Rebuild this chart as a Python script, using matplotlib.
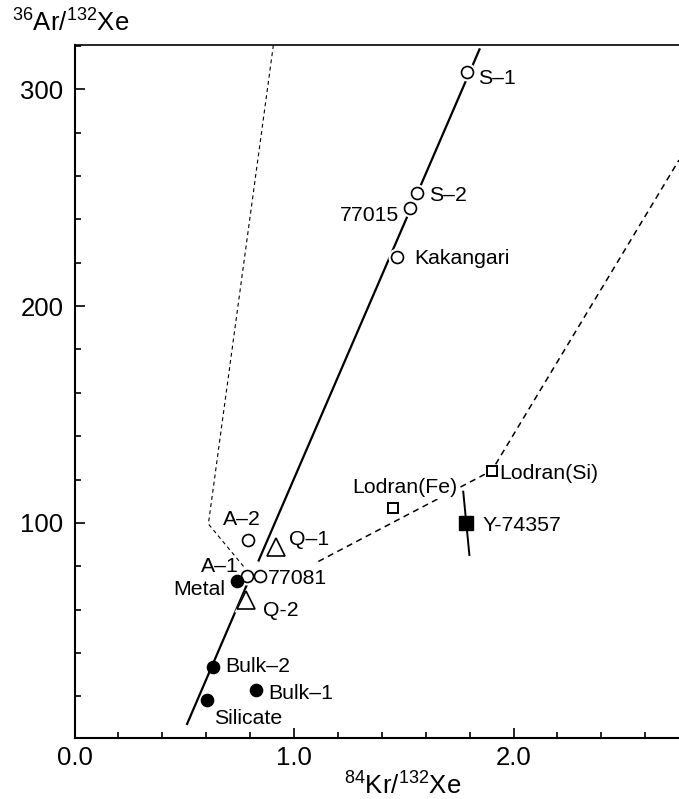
import matplotlib
matplotlib.use('Agg')
import matplotlib.pyplot as plt
from matplotlib.ticker import MultipleLocator, FixedLocator

plt.rcParams['font.family'] = ['Liberation Sans', 'DejaVu Sans']
plt.rcParams['mathtext.fontset'] = 'custom'
plt.rcParams['mathtext.rm'] = 'Liberation Sans'
plt.rcParams['mathtext.it'] = 'Liberation Sans:italic'
plt.rcParams['mathtext.bf'] = 'Liberation Sans:bold'

# ---------------- data ----------------
open_circle_labels = ['S–1', 'S–2', '77015', 'Kakangari', 'A–2', 'A–1', '77081']
open_circle_x = [1.787, 1.559, 1.528, 1.468, 0.792, 0.787, 0.845]
open_circle_y = [308.1, 252.0, 245.1, 222.8, 92.2, 75.7, 75.7]

filled_circle_labels = ['Metal', 'Bulk–2', 'Bulk–1', 'Silicate']
filled_circle_x = [0.742, 0.630, 0.827, 0.602]
filled_circle_y = [73.3, 33.7, 22.7, 18.1]

triangle_labels = ['Q–1', 'Q-2']
triangle_x = [0.917, 0.783]
triangle_y = [88.7, 64.5]

open_square_labels = ['Lodran(Fe)', 'Lodran(Si)']
open_square_x = [1.450, 1.901]
open_square_y = [106.8, 124.1]

filled_square_labels = ['Y-74357']
filled_square_x = [1.784]
filled_square_y = [99.9]
y74357_bar_x = [1.771, 1.799]
y74357_bar_y = [114.4, 85.2]

solid_upper_x = [0.837, 1.847]
solid_upper_y = [82.2, 318.9]
solid_lower_x = [0.511, 0.795]
solid_lower_y = [6.8, 73.7]
left_dashed_x = [0.906, 0.610, 0.777]
left_dashed_y = [320.4, 99.5, 79.1]
right_dashed_x = [1.111, 1.901, 2.754]
right_dashed_y = [82.2, 124.1, 267.4]

x_tick_values = [0, 1, 2]
x_tick_labels = ['0.0', '1.0', '2.0']
y_tick_values = [100, 200, 300]
y_tick_labels = ['100', '200', '300']

# ---------------- layout (label offsets in pixels: dx, dy, ha) ----------------
label_offsets = {
    'S–1': (11, 12, 'left'), 'S–2': (12, 8, 'left'), '77015': (-11, 13, 'right'),
    'Kakangari': (18, 7, 'left'), 'A–2': (-6, -15, 'center'), 'A–1': (-9, -4, 'right'),
    '77081': (8, 8, 'left'), 'Metal': (-12, 14, 'right'), 'Bulk–2': (12, 5, 'left'),
    'Bulk–1': (12, 9, 'left'), 'Silicate': (7, 24, 'left'), 'Q–1': (13, -2, 'left'),
    'Q-2': (17, 16, 'left'), 'Lodran(Fe)': (-41, -15, 'left'), 'Lodran(Si)': (7, 8, 'left'),
    'Y-74357': (16, 8, 'left'),
}

W, H = 679, 799
fig = plt.figure(figsize=(W / 100, H / 100), dpi=100)
left_px, right_px = 74.5, 74.5 + 3 * 219.5
top_px, bottom_px = 44.7, 737.5
ax = fig.add_axes([left_px / W, 1 - bottom_px / H,
                   (right_px - left_px) / W, (bottom_px - top_px) / H])
ax.set_xlim(0, 3)
ax.set_ylim(1, 320.6)

# lines
ax.plot(solid_upper_x, solid_upper_y, color='black', lw=1.6, zorder=2, solid_capstyle='butt')
ax.plot(solid_lower_x, solid_lower_y, color='black', lw=1.6, zorder=2, solid_capstyle='butt')
ax.plot(left_dashed_x, left_dashed_y, color='black', lw=0.8, ls=(0, (3.5, 3)), zorder=2)
ax.plot(right_dashed_x, right_dashed_y, color='black', lw=1.1, ls=(0, (4, 3)), zorder=2)
ax.plot(y74357_bar_x, y74357_bar_y, color='black', lw=1.4, zorder=2)

# halos (white gaps in lines around markers)
ax.plot(open_circle_x, open_circle_y, ls='none', marker='o', ms=13, mfc='white', mec='none', zorder=3)
ax.plot(triangle_x, triangle_y, ls='none', marker='^', ms=17, mfc='white', mec='none', zorder=3)

# markers
ax.plot(open_circle_x, open_circle_y, ls='none', marker='o', ms=8.6, mfc='white', mec='black', mew=1.2, zorder=5)
ax.plot(filled_circle_x, filled_circle_y, ls='none', marker='o', ms=8.8, mfc='black', mec='black', zorder=5)
ax.plot(triangle_x, triangle_y, ls='none', marker='^', ms=13.5, mfc='white', mec='black', mew=1.2, zorder=5)
ax.plot(open_square_x, open_square_y, ls='none', marker='s', ms=6.5, mfc='white', mec='black', mew=1.4, zorder=5)
ax.plot(filled_square_x, filled_square_y, ls='none', marker='s', ms=9.5, mfc='black', mec='black', zorder=5)

# labels
for labels, xs, ys in [(open_circle_labels, open_circle_x, open_circle_y),
                       (filled_circle_labels, filled_circle_x, filled_circle_y),
                       (triangle_labels, triangle_x, triangle_y),
                       (open_square_labels, open_square_x, open_square_y),
                       (filled_square_labels, filled_square_x, filled_square_y)]:
    for lab, x, y in zip(labels, xs, ys):
        dx, dy, ha = label_offsets[lab]
        kw = {}
        if lab == 'Lodran(Fe)':
            kw['bbox'] = dict(boxstyle='square,pad=0.1', fc='white', ec='none')
        ax.annotate(lab, (x, y), xytext=(dx, -dy), textcoords='offset pixels',
                    ha=ha, va='baseline', fontsize=15.3, zorder=4, **kw)

# axes styling
ax.xaxis.set_major_locator(FixedLocator(x_tick_values))
ax.set_xticklabels(x_tick_labels)
ax.xaxis.set_minor_locator(MultipleLocator(0.2))
ax.yaxis.set_major_locator(FixedLocator(y_tick_values))
ax.set_yticklabels(y_tick_labels)
ax.yaxis.set_minor_locator(MultipleLocator(20))
ax.tick_params(which='both', direction='in', top=False, right=False, labelsize=18.5, width=1.2)
ax.tick_params(which='major', length=7.5)
ax.tick_params(which='minor', length=4.3)
ax.tick_params(axis='x', pad=6)
ax.tick_params(axis='y', pad=8)
for s in ['left', 'bottom']:
    ax.spines[s].set_linewidth(1.5)
ax.spines['top'].set_linewidth(1.2)
ax.spines['right'].set_visible(False)

fig.text(12 / W, 1 - 32 / H, r'$^{36}$Ar/$^{132}$Xe', fontsize=18.5, ha='left', va='baseline')
fig.text(403 / W, 1 - 795 / H, r'$^{84}$Kr/$^{132}$Xe', fontsize=18.5, ha='center', va='baseline')

fig.savefig('out.png', dpi=100)
